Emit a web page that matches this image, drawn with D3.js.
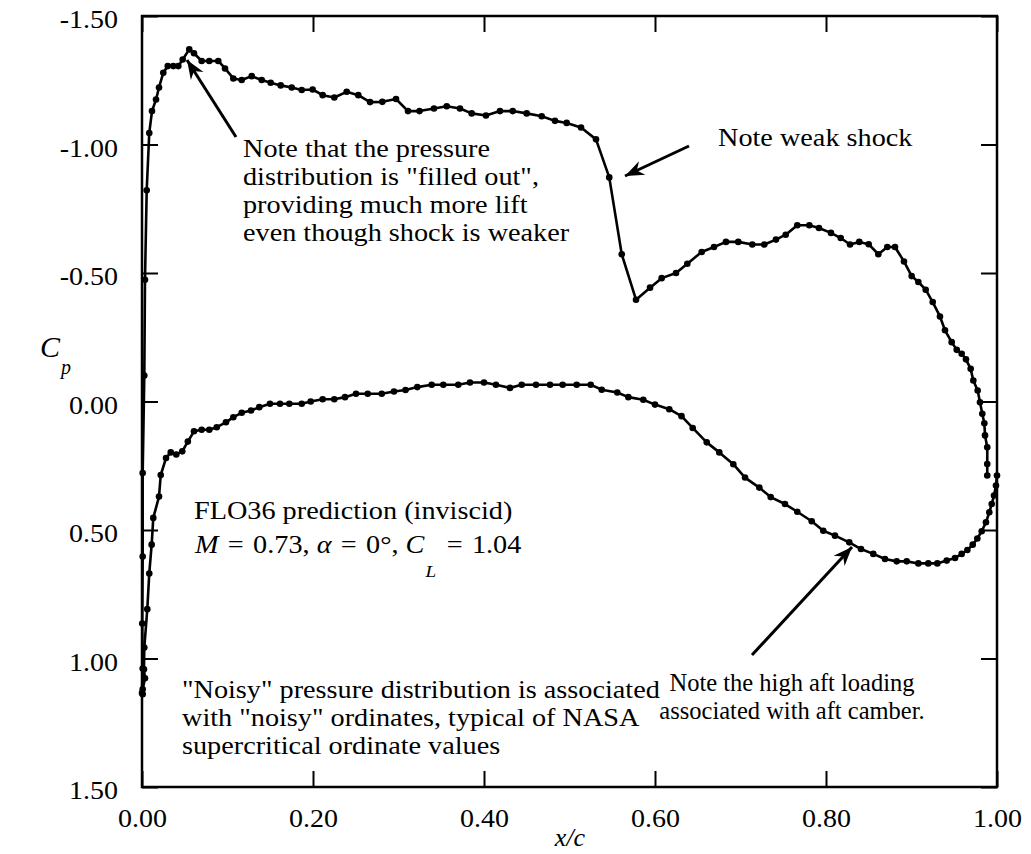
<!DOCTYPE html>
<html><head><meta charset="utf-8">
<script src="https://cdn.jsdelivr.net/npm/d3@7"></script>
<style>body{margin:0;background:#fff} svg{display:block}</style>
</head><body><svg id="c" width="1031" height="854"></svg>
<script>
const xTicks = [0, 0.2, 0.4, 0.6, 0.8, 1.0];
const yTicks = [-1.5, -1.0, -0.5, 0, 0.5, 1.0, 1.5];

const upperX = [0.0000,0.0008,0.0003,0.0008,0.0008,0.0027,0.0035,0.0055,0.0085,0.0117,
0.0164,0.0199,0.0249,0.0301,0.0366,0.0425,0.0476,0.0553,0.0608,0.0698,
0.0787,0.0892,0.0971,0.1068,0.1166,0.1283,0.1400,0.1505,0.1622,0.1751,
0.1868,0.1996,0.2113,0.2249,0.2394,0.2530,0.2667,0.2811,0.2971,0.3111,
0.3246,0.3415,0.3564,0.3719,0.3856,0.4023,0.4187,0.4336,0.4499,0.4675,
0.4830,0.4967,0.5135,0.5310,0.5465,0.5611,0.5778,0.5942,0.6078,0.6246,
0.6378,0.6546,0.6690,0.6830,0.6974,0.7138,0.7278,0.7415,0.7529,0.7664,
0.7805,0.7918,0.8058,0.8172,0.8281,0.8389,0.8499,0.8612,0.8717,0.8807,
0.8912,0.9002,0.9080,0.9166,0.9248,0.9333,0.9392,0.9470,0.9529,0.9587,
0.9637,0.9692,0.9723,0.9774,0.9801,0.9828,0.9852,0.9860,0.9886,0.9886,
0.9886];
const upperCp = [1.134,1.039,0.864,0.603,0.278,-0.101,-0.474,-0.822,-1.045,-1.130,
-1.175,-1.222,-1.279,-1.305,-1.305,-1.305,-1.331,-1.370,-1.355,-1.325,
-1.325,-1.325,-1.296,-1.257,-1.251,-1.266,-1.251,-1.240,-1.230,-1.222,
-1.212,-1.214,-1.192,-1.183,-1.205,-1.192,-1.165,-1.166,-1.177,-1.130,
-1.130,-1.140,-1.149,-1.140,-1.121,-1.113,-1.130,-1.130,-1.121,-1.110,
-1.092,-1.084,-1.066,-1.020,-0.872,-0.573,-0.396,-0.443,-0.480,-0.500,
-0.536,-0.582,-0.601,-0.621,-0.621,-0.611,-0.611,-0.630,-0.649,-0.686,
-0.686,-0.675,-0.656,-0.636,-0.611,-0.621,-0.612,-0.573,-0.601,-0.601,
-0.545,-0.488,-0.465,-0.435,-0.387,-0.331,-0.277,-0.231,-0.201,-0.186,
-0.164,-0.127,-0.082,-0.043,0.003,0.048,0.085,0.132,0.178,0.243,
0.288];

const lowerX = [0.0008,0.0008,0.0035,0.0023,0.0027,0.0062,0.0085,0.0113,0.0132,0.0199,
0.0219,0.0281,0.0336,0.0401,0.0471,0.0536,0.0608,0.0698,0.0787,0.0874,
0.0982,0.1068,0.1166,0.1275,0.1372,0.1497,0.1614,0.1723,0.1868,0.1973,
0.2113,0.2249,0.2374,0.2503,0.2640,0.2804,0.2947,0.3082,0.3220,0.3388,
0.3524,0.3699,0.3836,0.4000,0.4140,0.4304,0.4441,0.4608,0.4772,0.4920,
0.5084,0.5248,0.5377,0.5559,0.5688,0.5863,0.6000,0.6167,0.6310,0.6441,
0.6605,0.6752,0.6916,0.7053,0.7220,0.7353,0.7520,0.7664,0.7833,0.7968,
0.8105,0.8272,0.8409,0.8553,0.8690,0.8827,0.8944,0.9080,0.9196,0.9302,
0.9412,0.9509,0.9587,0.9653,0.9716,0.9770,0.9821,0.9871,0.9910,0.9938,
0.9965,0.9988,1.0000];
const lowerCp = [1.139,1.120,1.077,1.042,0.957,0.808,0.669,0.557,0.453,0.370,
0.286,0.220,0.198,0.206,0.194,0.156,0.116,0.110,0.110,0.100,
0.081,0.061,0.044,0.035,0.022,0.009,0.009,0.009,0.009,0.000,
-0.009,-0.009,-0.017,-0.030,-0.030,-0.030,-0.039,-0.045,-0.056,-0.065,
-0.065,-0.065,-0.074,-0.074,-0.065,-0.053,-0.065,-0.065,-0.065,-0.065,
-0.065,-0.065,-0.046,-0.035,-0.017,-0.007,0.012,0.030,0.057,0.103,
0.159,0.198,0.244,0.296,0.335,0.372,0.399,0.429,0.466,0.503,
0.522,0.548,0.574,0.593,0.613,0.622,0.622,0.630,0.630,0.630,
0.619,0.609,0.593,0.578,0.557,0.533,0.505,0.470,0.431,0.399,
0.366,0.327,0.288];

const note1Lines = ['Note that the pressure', 'distribution is "filled out",', 'providing much more lift', 'even though shock is weaker'];
const note2Lines = ['Note weak shock'];
const note3Lines = ['Note the high aft loading', 'associated with aft camber.'];
const note4Lines = ['"Noisy" pressure distribution is associated', 'with "noisy" ordinates, typical of NASA', 'supercritical ordinate values'];
const flowLine = 'FLO36 prediction (inviscid)';

const FONT = '"Liberation Serif", "Times New Roman", Times, serif';
const SX = 1.13;  // horizontal stretch of the reference lettering
const svg = d3.select('#c');
const L = 142, R = 997, T = 16, B = 787;
const x = d3.scaleLinear().domain([0, 1]).range([L, R]);
const y = d3.scaleLinear().domain([-1.5, 1.5]).range([T, B]);
const fmt = d => d.toFixed(2);

// axes with inward ticks
const gB = svg.append('g').attr('transform', `translate(0,${B})`)
  .call(d3.axisBottom(x).tickValues(xTicks).tickFormat(fmt).tickSizeInner(-16).tickSizeOuter(0).tickPadding(22));
const gT = svg.append('g').attr('transform', `translate(0,${T})`)
  .call(d3.axisTop(x).tickValues(xTicks).tickFormat('').tickSizeInner(-16).tickSizeOuter(0));
const gLf = svg.append('g').attr('transform', `translate(${L},0)`)
  .call(d3.axisLeft(y).tickValues(yTicks).tickFormat(fmt).tickSizeInner(-16).tickSizeOuter(0).tickPadding(21.5));
const gRt = svg.append('g').attr('transform', `translate(${R},0)`)
  .call(d3.axisRight(y).tickValues(yTicks).tickFormat('').tickSizeInner(-16).tickSizeOuter(0));
[gB, gT, gLf, gRt].forEach(g => {
  g.select('.domain').remove();
  g.selectAll('line').attr('stroke', '#000').attr('stroke-width', 2);
  g.selectAll('text').attr('font-family', FONT).attr('font-size', 25).attr('fill', '#000')
    .attr('transform', 'scale(1.12,1)');
});
gLf.selectAll('text').attr('dy', '0.47em');

svg.append('rect').attr('x', L).attr('y', T).attr('width', R - L).attr('height', B - T)
  .attr('fill', 'none').attr('stroke', '#000').attr('stroke-width', 2.5);

// series
const line = d3.line().x(d => x(d[0])).y(d => y(d[1]));
const series = [d3.zip(upperX, upperCp), d3.zip(lowerX, lowerCp)];
series.forEach(pts => {
  svg.append('path').attr('d', line(pts)).attr('fill', 'none').attr('stroke', '#000')
    .attr('stroke-width', 2.6).attr('stroke-linejoin', 'round');
  svg.append('g').selectAll('circle').data(pts).join('circle')
    .attr('cx', d => x(d[0])).attr('cy', d => y(d[1])).attr('r', 3.3).attr('fill', '#000');
});

// arrow marker
svg.append('defs').append('marker').attr('id', 'ah').attr('viewBox', '-20 -10 22 20')
  .attr('refX', 0).attr('refY', 0).attr('markerWidth', 22).attr('markerHeight', 20)
  .attr('markerUnits', 'userSpaceOnUse').attr('orient', 'auto')
  .append('path').attr('d', 'M0,0 L-19,-7.5 L-13,0 L-19,7.5 Z').attr('fill', '#000');
function arrow(x1, y1, x2, y2) {
  svg.append('line').attr('x1', x1).attr('y1', y1).attr('x2', x2).attr('y2', y2)
    .attr('stroke', '#000').attr('stroke-width', 3).attr('marker-end', 'url(#ah)');
}
arrow(236, 137, 187, 60);
arrow(689, 146, 625, 176);
arrow(752, 655, 852, 547);

function textBlock(lines, x0, y0, dy, anchor, sx, size) {
  const g = svg.append('g').attr('transform', `translate(${x0},${y0}) scale(${sx},1)`);
  const t = g.append('text').attr('font-family', FONT).attr('font-size', size).attr('fill', '#000')
    .attr('text-anchor', anchor || 'start');
  lines.forEach((s, i) => t.append('tspan').attr('x', 0).attr('y', i * dy).text(s));
  return g;
}
textBlock(note1Lines, 243, 157, 28, 'start', SX, 25);
textBlock(note2Lines, 718, 146, 28, 'start', SX, 25);
textBlock(note3Lines, 792, 691, 28, 'middle', 1.0, 24.5);
textBlock(note4Lines, 182, 698, 28, 'start', SX, 25);
textBlock([flowLine], 194, 519, 28, 'start', SX, 25);

const mg = svg.append('g').attr('transform', `translate(195,553) scale(${SX},1)`);
const m = mg.append('text').attr('font-family', FONT).attr('font-size', 25).attr('fill', '#000');
m.append('tspan').attr('font-style', 'italic').text('M');
m.append('tspan').attr('dx', 2).text(' = ');
m.append('tspan').attr('dx', 2).text('0.73, ');
m.append('tspan').attr('font-style', 'italic').text('α');
m.append('tspan').attr('dx', 2).text(' = ');
m.append('tspan').attr('dx', 2).text('0°, ');
m.append('tspan').attr('font-style', 'italic').text('C');
m.append('tspan').attr('font-style', 'italic').attr('font-size', 17).attr('dy', 24).attr('dx', 1).text('L');
m.append('tspan').attr('dy', -24).attr('dx', 3).text(' = ');
m.append('tspan').attr('dx', 2).text('1.04');

// axis titles
const cp = svg.append('text').attr('font-family', FONT).attr('fill', '#000').attr('x', 40).attr('y', 357);
cp.append('tspan').attr('font-style', 'italic').attr('font-size', 30).text('C');
cp.append('tspan').attr('font-style', 'italic').attr('font-size', 20).attr('dy', 17).attr('dx', 1).text('p');

svg.append('text').attr('font-family', FONT).attr('font-style', 'italic').attr('font-size', 26)
  .attr('fill', '#000').attr('x', 570).attr('y', 846).attr('text-anchor', 'middle').text('x/c');
</script></body></html>
